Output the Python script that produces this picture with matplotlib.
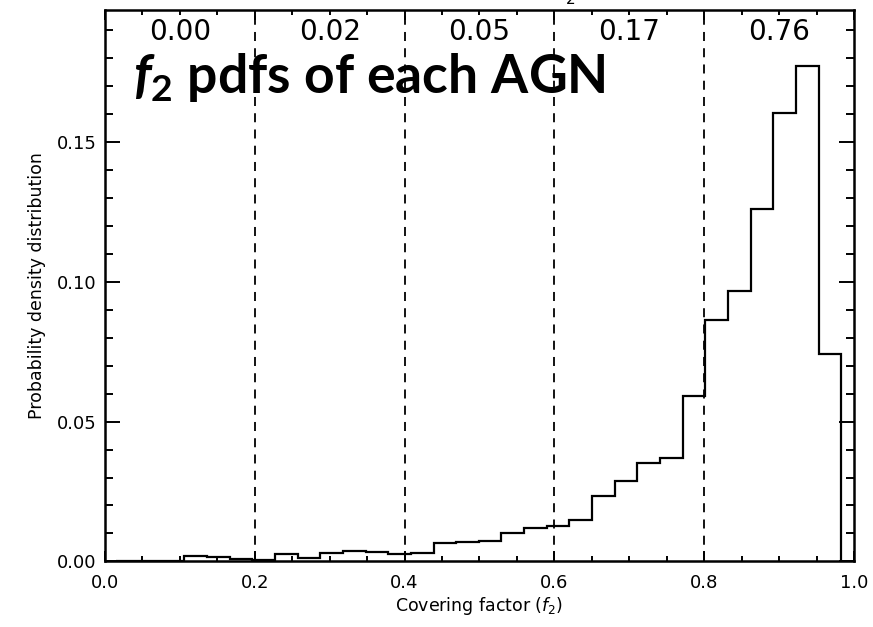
import numpy as np
import matplotlib
matplotlib.use("Agg")
import matplotlib.pyplot as plt
from matplotlib.ticker import MultipleLocator, FixedLocator

# histogram of f2 posterior: bin edges (in covering factor) and pdf values
bin_width = 0.03025
bin_edges = (np.arange(33) + 0.5) * bin_width
pdf = [0.0, 0.0, 0.0,
       0.0021, 0.0015, 0.0010, 0.0006, 0.0025, 0.0014, 0.0031, 0.0038,
       0.0034, 0.0026, 0.0032, 0.0065, 0.0070, 0.0073, 0.0100, 0.0121,
       0.0128, 0.0149, 0.0234, 0.0287, 0.0352, 0.0370, 0.0592, 0.0861,
       0.0967, 0.1259, 0.1602, 0.1769, 0.0741]

# fraction of the pdf falling in each covering-factor interval
cuts = [0.2, 0.4, 0.6, 0.8]
region_mid = [0.1, 0.3, 0.5, 0.7, 0.9]
region_frac = ["0.00", "0.02", "0.05", "0.17", "0.76"]

xticks = [0.0, 0.2, 0.4, 0.6, 0.8, 1.0]
xticklabels = ["0.0", "0.2", "0.4", "0.6", "0.8", "1.0"]
yticks = [0.0, 0.05, 0.10, 0.15]
yticklabels = ["0.00", "0.05", "0.10", "0.15"]

plt.rcParams["mathtext.fontset"] = "custom"
plt.rcParams["mathtext.it"] = "Lato:italic:bold"
plt.rcParams["mathtext.rm"] = "Lato:bold"

fig = plt.figure(figsize=(8.73, 6.27), dpi=100)
ax = fig.add_axes([0.1203, 0.1045, 0.8579, 0.8795])

ax.text(0.038, 0.1673, r"$\mathit{f_2}$ pdfs of each AGN", fontsize=38.5,
        family="Lato", weight="bold", va="baseline", ha="left", zorder=1)

ax.stairs(pdf, bin_edges, baseline=0, color="black", lw=1.6, zorder=3)

for c in cuts:
    ax.axvline(c, color="black", lw=1.3, ls=(0, (5, 4)), zorder=2)

for xm, s in zip(region_mid, region_frac):
    ax.text(xm, 0.1890, s, ha="center", va="center", fontsize=20,
            family="DejaVu Sans", zorder=4)

ax.set_xlim(0, 1)
ax.set_ylim(0, 0.197)
ax.xaxis.set_major_locator(FixedLocator(xticks))
ax.xaxis.set_minor_locator(MultipleLocator(0.05))
ax.yaxis.set_major_locator(FixedLocator(yticks))
ax.yaxis.set_minor_locator(MultipleLocator(0.01))
ax.set_xticklabels(xticklabels)
ax.set_yticklabels(yticklabels)

ax.tick_params(axis="both", which="both", direction="in", top=True, right=True,
               width=1.4, labelsize=13)
ax.tick_params(axis="x", which="major", length=7, pad=9)
ax.tick_params(axis="x", which="minor", length=3.5)
ax.tick_params(axis="y", which="major", length=11, pad=6)
ax.tick_params(axis="y", which="minor", length=5.5)
for sp in ax.spines.values():
    sp.set_linewidth(1.8)

ax.set_xlabel(r"Covering factor ($f_2$)", fontsize=12.5, labelpad=2,
              math_fontfamily="dejavusans")
ax.set_ylabel("Probability density distribution", fontsize=12.5, labelpad=8)

# title sits above the visible canvas; only its subscript peeks in
fig.text(571 / 873, 1 - 7 / 627, "2", fontsize=11, ha="center", va="bottom")

fig.savefig("out.png", dpi=100)
